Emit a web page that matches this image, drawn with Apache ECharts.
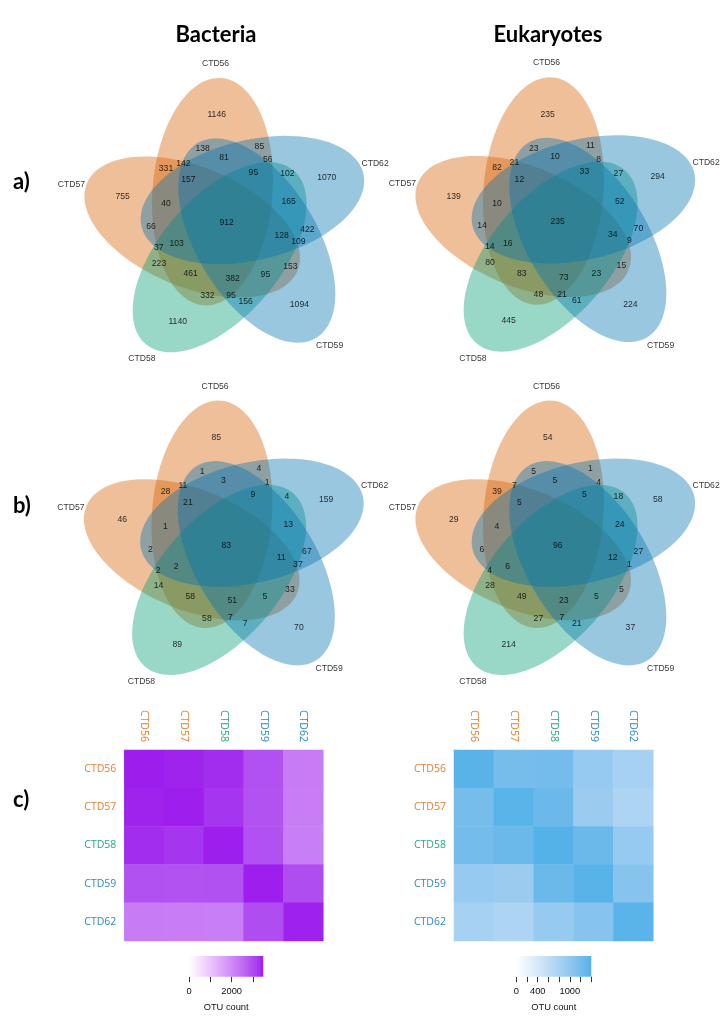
<!DOCTYPE html>
<html><head><meta charset="utf-8">
<script src="https://cdn.jsdelivr.net/npm/echarts@6/dist/echarts.min.js"></script>
<style>html,body{margin:0;padding:0;background:#fff}#c{width:728px;height:1029px}</style>
</head><body><div id="c"></div>
<script>
// ---------------- DATA ----------------
const samples = ['CTD56', 'CTD57', 'CTD58', 'CTD59', 'CTD62'];

// Venn regions (same order in every diagram); membership of each region
const regionSets = ['56','62','57','58','59','56&59','56&62','56&62&59','56&62&58','57&56',
  '57&56&59','56&62&59&58','62&58','57&56&62&59','57&56&62','62&59&58','all','57&62','62&59',
  '62&59&58&57','62&59&57','58&57&62','58&57&56&62','58&57','59&57','58&57&56','59&58&57&56',
  '59&58&57','58&56','59&58&56','59&58'];

// a) total OTUs
const bacteriaA   = [1146,1070,755,1140,1094,138,85,81,56,331,142,95,102,157,40,165,912,66,422,128,109,37,103,223,153,461,382,95,332,95,156];
const eukaryotesA = [235,294,139,445,224,23,11,10,8,82,21,33,27,12,10,52,235,14,70,34,9,14,16,80,15,83,73,23,48,21,61];
// b)
const bacteriaB   = [85,159,46,89,70,1,4,3,1,28,11,9,4,21,1,13,83,2,67,11,37,2,2,14,33,58,51,5,58,7,7];
const eukaryotesB = [54,58,29,214,37,5,1,5,4,39,7,5,18,5,4,24,96,6,27,12,1,4,6,28,5,49,23,5,27,7,21];

// c) shared OTU counts (rows/cols = samples)
const bacteriaShared = [
  [3480, 3430, 3340, 2900, 2230],
  [3430, 3470, 3260, 2890, 2220],
  [3340, 3260, 3460, 2900, 2200],
  [2900, 2890, 2900, 3470, 2950],
  [2230, 2220, 2200, 2950, 3450]
];
const eukaryotesShared = [
  [1380, 1180, 1200, 950, 810],
  [1180, 1370, 1270, 910, 760],
  [1200, 1270, 1400, 1270, 950],
  [950, 910, 1270, 1380, 1070],
  [810, 760, 950, 1070, 1360]
];
const bacteriaBarTicks = [0, 1000, 2000, 3000];
const bacteriaBarLabels = [0, 2000];
const eukaryotesBarTicks = [0, 200, 400, 600, 800, 1000, 1200, 1400];
const eukaryotesBarLabels = [0, 400, 1000];

// ---------------- LAYOUT / STYLE ----------------
const VENN = { // geometry of the 5-ellipse diagram in px around its centre (y down)
  r0: 34.7, phi0: -42.2, theta0: -13.5, a: 114, b: 60, step: -72,
  rotIndex: {CTD62: 0, CTD56: 1, CTD57: 2, CTD58: 3, CTD59: 4},
  labelR: 160, labelAng0: -22,
  drawOrder: ['CTD56', 'CTD57', 'CTD58', 'CTD59', 'CTD62'],
  regionXY: [[-10,-108.3],[100,-46],[-104,-26.3],[-49,98.3],[72.7,81.7],[-24,-74.3],[32.7,-77],[-2.7,-65.7],[41,-63.3],[-60.7,-54.7],[-43.3,-60],[26.7,-51],[60.7,-49.3],[-38.3,-43.3],[-60.7,-19.3],[62,-21.3],[0,-0.7],[-75.7,3.3],[80.7,6],[55,12],[71.7,18.3],[-68,24.3],[-50,20.7],[-67.7,40],[63.7,43.3],[-36,50.7],[6,55],[38.7,51],[-19.3,72.3],[4.3,72],[19,78]]
};
const fillColor = {CTD56:'#D55E00', CTD57:'#D55E00', CTD58:'#009E73', CTD59:'#0072B2', CTD62:'#0072B2'};
const fillAlpha = 0.4;
const textColor = {CTD56:'#EE7B2E', CTD57:'#EE7B2E', CTD58:'#26A77B', CTD59:'#2E89C2', CTD62:'#2E89C2'};
const vennPanels = [
  {cx: 226.7, cy: 223.3, data: bacteriaA},
  {cx: 557.7, cy: 222.7, data: eukaryotesA},
  {cx: 226.2, cy: 546.0, data: bacteriaB},
  {cx: 557.7, cy: 546.0, data: eukaryotesB}
];
const numFont = 'Liberation Sans';

// ---------- Lab colour ramp (like ggplot2 scale_fill_gradient) ----------
function s2l(c){c/=255;return c<=0.04045?c/12.92:Math.pow((c+0.055)/1.055,2.4);}
function l2s(c){c=c<=0.0031308?12.92*c:1.055*Math.pow(c,1/2.4)-0.055;return Math.round(Math.max(0,Math.min(1,c))*255);}
const WN=[0.95047,1,1.08883];
function hex2lab(h){const r=s2l(parseInt(h.substr(1,2),16)),g=s2l(parseInt(h.substr(3,2),16)),b=s2l(parseInt(h.substr(5,2),16));
  const X=(0.4124*r+0.3576*g+0.1805*b)/WN[0],Y=(0.2126*r+0.7152*g+0.0722*b)/WN[1],Z=(0.0193*r+0.1192*g+0.9505*b)/WN[2];
  const f=t=>t>0.008856?Math.cbrt(t):(7.787*t+16/116);const fx=f(X),fy=f(Y),fz=f(Z);
  return [116*fy-16,500*(fx-fy),200*(fy-fz)];}
function lab2hex(L,A,B){const fy=(L+16)/116,fx=fy+A/500,fz=fy-B/200;const fi=f=>{const c=f*f*f;return c>0.008856?c:(f-16/116)/7.787;};
  const X=fi(fx)*WN[0],Y=fi(fy)*WN[1],Z=fi(fz)*WN[2];
  const r=3.2406*X-1.5372*Y-0.4986*Z,g=-0.9689*X+1.8758*Y+0.0415*Z,b=0.0557*X-0.2040*Y+1.0570*Z;
  return '#'+[l2s(r),l2s(g),l2s(b)].map(v=>v.toString(16).padStart(2,'0')).join('');}
function ramp(lo,hi,n){const A=hex2lab(lo),B=hex2lab(hi),out=[];for(let i=0;i<n;i++){const t=i/(n-1);out.push(lab2hex(A[0]+(B[0]-A[0])*t,A[1]+(B[1]-A[1])*t,A[2]+(B[2]-A[2])*t));}return out;}
const bactRamp = ramp('#ffffff', '#9d1ded', 25);
const eukRamp = ramp('#ffffff', '#54b2e8', 25);

// ---------------- BUILD ----------------
const rad = d => d*Math.PI/180;
const grid=[], xAxis=[], yAxis=[], series=[];
vennPanels.forEach((p, i) => {
  grid.push({left: p.cx-170, top: p.cy-170, width: 340, height: 340});
  xAxis.push({type:'value', gridIndex:i, min:-170, max:170, show:false});
  yAxis.push({type:'value', gridIndex:i, min:-170, max:170, inverse:true, show:false});
  series.push({
    type:'custom', xAxisIndex:i, yAxisIndex:i, silent:true,
    data: VENN.drawOrder.map((s, j) => [j]),
    renderItem: (params, api) => {
      const s = VENN.drawOrder[params.dataIndex];
      const k = VENN.rotIndex[s];
      const phi = rad(VENN.phi0 + VENN.step*k), th = rad(VENN.theta0 + VENN.step*k);
      const cx = VENN.r0*Math.cos(phi), cy = VENN.r0*Math.sin(phi);
      const pts = [];
      for (let t=0; t<120; t++) {
        const u = 2*Math.PI*t/120;
        const ex = VENN.a*Math.cos(u), ey = VENN.b*Math.sin(u);
        pts.push(api.coord([cx + ex*Math.cos(th) - ey*Math.sin(th), cy + ex*Math.sin(th) + ey*Math.cos(th)]));
      }
      return {type:'polygon', shape:{points:pts}, style:{fill: fillColor[s], opacity: fillAlpha}};
    }
  });
  series.push({
    type:'scatter', xAxisIndex:i, yAxisIndex:i, silent:true, symbolSize:0,
    data: p.data.map((v, r) => [VENN.regionXY[r][0], VENN.regionXY[r][1], v]),
    label:{show:true, position:'inside', formatter: q => q.value[2], color:'#000', fontSize:8.6, fontFamily:numFont}
  });
  series.push({
    type:'scatter', xAxisIndex:i, yAxisIndex:i, silent:true, symbolSize:0,
    data: samples.map(s => { const k = VENN.rotIndex[s]; const ang = rad(VENN.labelAng0 + VENN.step*k);
      return [VENN.labelR*Math.cos(ang), VENN.labelR*Math.sin(ang), s]; }),
    label:{show:true, position:'inside', formatter: q => q.value[2], color:'#000', fontSize:8.6, fontFamily:numFont}
  });
});

// heatmaps
const heatPanels = [
  {left:124.3, width:199, data: bacteriaShared, ramp: bactRamp, barLeft:189, barWidth:74.3, ticks: bacteriaBarTicks, labels: bacteriaBarLabels},
  {left:454, width:199.3, data: eukaryotesShared, ramp: eukRamp, barLeft:516.3, barWidth:75, ticks: eukaryotesBarTicks, labels: eukaryotesBarLabels}
];
const visualMap = [];
heatPanels.forEach((h, j) => {
  const gi = grid.length;
  const max = Math.max(...h.data.flat());
  grid.push({left:h.left, top:750, width:h.width, height:191});
  xAxis.push({type:'category', gridIndex:gi, data:samples, position:'top', axisLine:{show:false}, axisTick:{show:false},
    axisLabel:{rotate:90, margin:8, fontSize:10.5, fontFamily:'Open Sans', color: v => textColor[v]}});
  yAxis.push({type:'category', gridIndex:gi, data:samples, inverse:true, axisLine:{show:false}, axisTick:{show:false},
    axisLabel:{margin:8, fontSize:10.5, fontFamily:'Open Sans', color: v => textColor[v]}});
  const sIdx = series.length;
  const d = [];
  h.data.forEach((row, r) => row.forEach((v, c) => d.push([c, r, v])));
  series.push({type:'heatmap', xAxisIndex:gi, yAxisIndex:gi, data:d, silent:true, itemStyle:{borderWidth:0}});
  visualMap.push({type:'continuous', show:false, min:0, max:max, dimension:2, seriesIndex:sIdx, inRange:{color:h.ramp}});
  // colour bar
  const bi = grid.length;
  grid.push({left:h.barLeft, top:956, width:h.barWidth, height:20.7});
  xAxis.push({type:'value', gridIndex:bi, min:0, max:max, axisLine:{show:false}, splitLine:{show:false},
    axisTick:{show:true, customValues:h.ticks, length:5.5, inside:false, lineStyle:{color:'#333', width:1}},
    axisLabel:{customValues:h.labels, formatter: v => String(v), margin:10, fontSize:9.3, color:'#111', fontFamily:numFont},
    name:'OTU count', nameLocation:'middle', nameGap:26, nameTextStyle:{fontSize:9.3, color:'#111', fontFamily:numFont}});
  yAxis.push({type:'value', gridIndex:bi, min:0, max:1, show:false});
  const stops = h.ramp.map((c, i) => ({offset: i/(h.ramp.length-1), color: c}));
  series.push({type:'custom', xAxisIndex:bi, yAxisIndex:bi, silent:true, data:[[0, max]],
    renderItem: (params, api) => {
      const p0 = api.coord([api.value(0), 1]), p1 = api.coord([api.value(1), 0]);
      return {type:'rect', shape:{x:p0[0], y:p0[1], width:p1[0]-p0[0], height:p1[1]-p0[1]},
        style:{fill: new echarts.graphic.LinearGradient(0,0,1,0, stops)}};
    }});
});

const titleFont = 'bold 22px Lato, "Open Sans", sans-serif';
const option = {
  backgroundColor:'#fff', animation:false,
  grid, xAxis, yAxis, series, visualMap,
  graphic: [
    {type:'text', x:216, y:35, style:{text:'Bacteria', font:titleFont, fill:'#000', align:'center', verticalAlign:'middle'}},
    {type:'text', x:548, y:35, style:{text:'Eukaryotes', font:titleFont, fill:'#000', align:'center', verticalAlign:'middle'}},
    {type:'text', x:13, y:182, style:{text:'a)', font:titleFont, fill:'#000', align:'left', verticalAlign:'middle'}},
    {type:'text', x:13, y:506, style:{text:'b)', font:titleFont, fill:'#000', align:'left', verticalAlign:'middle'}},
    {type:'text', x:13, y:800, style:{text:'c)', font:titleFont, fill:'#000', align:'left', verticalAlign:'middle'}}
  ]
};
const chart = echarts.init(document.getElementById('c'), null, {renderer:'canvas'});
chart.setOption(option);
</script></body></html>
